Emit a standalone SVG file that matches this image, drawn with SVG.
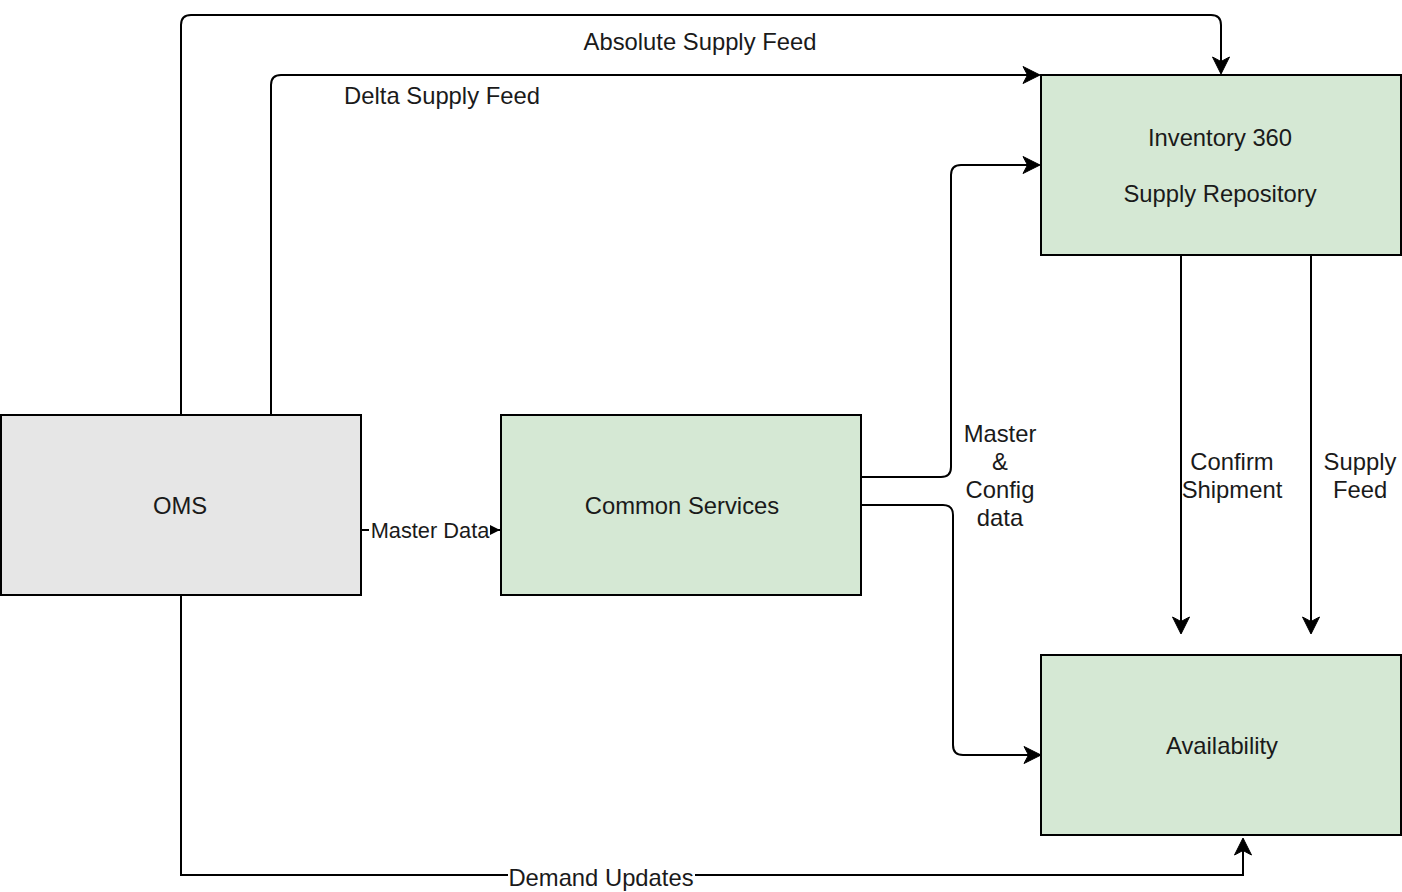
<svg xmlns="http://www.w3.org/2000/svg" width="1402" height="892" viewBox="0 0 1402 892">
<style>
.box{stroke:#000;stroke-width:2}
.grey{fill:#e6e6e6}
.green{fill:#d5e8d4}
.lbl{font-family:"Liberation Sans",Arial,sans-serif;font-size:23.8px;fill:#1a1a1a;text-anchor:middle}
.small{font-size:21.8px}
.edge{fill:none;stroke:#000;stroke-width:2}
.arr{marker-end:url(#ah)}
</style>
<defs>
<marker id="ah" markerUnits="userSpaceOnUse" viewBox="-20 -10 22 20" refX="0" refY="0" markerWidth="22" markerHeight="20" orient="auto">
<path d="M1,0 L-16,-8.5 L-11.5,0 L-16,8.5 Z" fill="#000" stroke="#000" stroke-width="1" stroke-linejoin="miter"/>
</marker>
<marker id="sm" markerUnits="userSpaceOnUse" viewBox="-11 -6 12 12" refX="0" refY="0" markerWidth="12" markerHeight="12" orient="auto">
<path d="M0,0 L-10,-5 L-10,5 Z" fill="#000"/>
</marker>
</defs>
<g id="connectors">
<path class="edge arr" d="M181,415 V25 Q181,15 191,15 H1211 Q1221,15 1221,25 V73"/>
<path class="edge arr" d="M271,415 V85 Q271,75 281,75 H1039"/>
<path class="edge" d="M361,530 H500" marker-end="url(#sm)"/>
<path class="edge arr" d="M861,477 H941 Q951,477 951,467 V175 Q951,165 961,165 H1039"/>
<path class="edge arr" d="M861,505 H943 Q953,505 953,515 V745 Q953,755 963,755 H1040"/>
<path class="edge arr" d="M1181,255 V633"/>
<path class="edge arr" d="M1311,255 V633"/>
<path class="edge arr" d="M181,595 V875 H1243 V839"/>
<text class="lbl" x="700" y="50">Absolute Supply Feed</text>
<text class="lbl" x="442" y="104">Delta Supply Feed</text>
<rect x="369" y="518" width="121" height="24" fill="#fff"/>
<text class="lbl small" x="430" y="538">Master Data</text>
<text class="lbl" x="1000" y="442">Master</text>
<text class="lbl" x="1000" y="470">&amp;</text>
<text class="lbl" x="1000" y="498">Config</text>
<text class="lbl" x="1000" y="526">data</text>
<text class="lbl" x="1232" y="470">Confirm</text>
<text class="lbl" x="1232" y="498">Shipment</text>
<text class="lbl" x="1360" y="470">Supply</text>
<text class="lbl" x="1360" y="498">Feed</text>
<rect x="508" y="864" width="187" height="26" fill="#fff"/>
<text class="lbl" x="601" y="886">Demand Updates</text>
</g>
<g id="oms">
<rect class="box grey" x="1" y="415" width="360" height="180"/>
<text class="lbl" x="180" y="514">OMS</text>
</g>
<g id="common-services">
<rect class="box green" x="501" y="415" width="360" height="180"/>
<text class="lbl" x="682" y="514">Common Services</text>
</g>
<g id="inventory-360">
<rect class="box green" x="1041" y="75" width="360" height="180"/>
<text class="lbl" x="1220" y="146">Inventory 360</text>
<text class="lbl" x="1220" y="202">Supply Repository</text>
</g>
<g id="availability">
<rect class="box green" x="1041" y="655" width="360" height="180"/>
<text class="lbl" x="1222" y="754">Availability</text>
</g>
</svg>
